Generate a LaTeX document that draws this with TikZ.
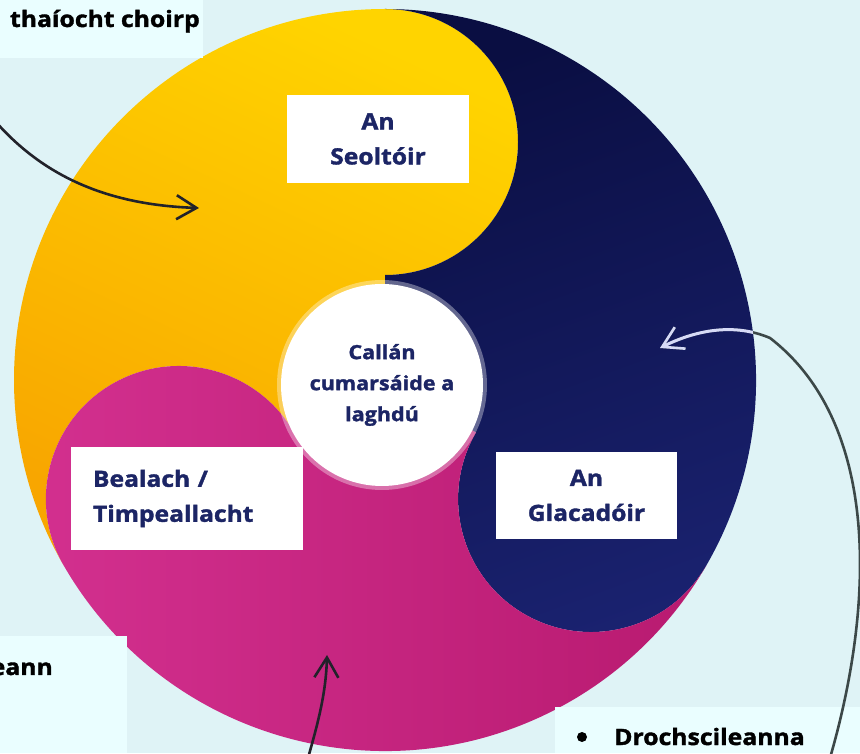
\documentclass[tikz,border=0pt]{standalone}
\usepackage{fontspec}
\setmainfont{Open Sans}[FakeStretch=1.1, BoldFeatures={FakeBold=1.6}]
\usetikzlibrary{arrows.meta,calc}
\definecolor{bg}{HTML}{DFF3F6}
\definecolor{boxc}{HTML}{EAFEFF}
\definecolor{ytop}{HTML}{FFD400}
\definecolor{ymid}{HTML}{FFC800}
\definecolor{ybot}{HTML}{F8A600}
\definecolor{ntop}{HTML}{0A0E42}
\definecolor{nbot}{HTML}{1A2270}
\definecolor{mleft}{HTML}{D3308F}
\definecolor{mright}{HTML}{B81A70}
\definecolor{navytext}{HTML}{1C2565}
\definecolor{darkline}{HTML}{22222A}
\definecolor{grayline}{HTML}{3C4848}
\definecolor{lightline}{HTML}{D6DAF6}
\tikzset{
  lbl/.style={fill=white, inner sep=0pt, align=center, text=navytext,
    font=\fontsize{22.4}{35}\selectfont\bfseries},
  ctext/.style={inner sep=0pt, text=black, font=\fontsize{22.5}{30}\selectfont\bfseries},
  arr/.style={line width=2.6pt, line cap=round,
    -{Straight Barb[length=20pt,width=24pt,line width=2.6pt]}}
}
\begin{document}
\begin{tikzpicture}[x=1pt,y=1pt]
\useasboundingbox (0,0) rectangle (860,753);
\clip (0,0) rectangle (860,753);
\fill[bg] (0,0) rectangle (860,753);
\coordinate (O) at (385,373);
% yellow (top-left)
\shade[top color=ytop, middle color=ymid, bottom color=ybot, shading angle=-25]
  ($(O)+(90:371)$) arc[start angle=90,end angle=210,radius=371]
  arc[start angle=210,end angle=30,radius=133] -- (O) -- ($(O)+(90:105)$)
  arc[start angle=-90,end angle=90,radius=133] -- cycle;
% navy (right)
\shade[top color=ntop, bottom color=nbot, shading angle=20]
  ($(O)+(-30:371)$) arc[start angle=-30,end angle=90,radius=371]
  arc[start angle=90,end angle=-90,radius=133] -- (O) -- ($(O)+(-30:105)$)
  arc[start angle=150,end angle=330,radius=133] -- cycle;
% magenta (bottom-left)
\shade[left color=mleft, right color=mright]
  ($(O)+(210:371)$) arc[start angle=210,end angle=330,radius=371]
  arc[start angle=330,end angle=150,radius=133] -- (O) -- ($(O)+(210:105)$)
  arc[start angle=30,end angle=210,radius=133] -- cycle;
% centre
\fill[white, opacity=0.35] (382,368) circle[radius=105];
\node[circle, fill=white, minimum size=202pt, inner sep=0pt, align=center, text=navytext,
  font=\fontsize{19.6}{31}\selectfont\bfseries] (noise) at (382,368)
  {Callán\\cumarsáide a\\laghdú};
% labels
\node[lbl, minimum width=182pt, minimum height=88pt] (seol) at (378,614) {An\\Seoltóir};
\node[lbl, minimum width=181pt, minimum height=87pt] (glac) at (586.5,257.5) {An\\Glacadóir};
\node[lbl, minimum width=232pt, minimum height=103pt, text width=188pt, align=left, inner xsep=22pt]
  (beal) at (187,254.5) {Bealach /\\Timpeallacht};
% corner boxes
\fill[boxc] (0,695) rectangle (203,753);
\node[ctext, anchor=base east] (tltext) at (200,726) {thaíocht choirp};
\fill[boxc] (0,0) rectangle (127,117);
\node[ctext, anchor=base east] (bltext) at (53,78) {eann};
\fill[boxc] (555,0) rectangle (860,46);
\fill[black] (582,16) circle[radius=5];
\node[ctext, anchor=base west] (drtext) at (614,8) {Drochscileanna};
% arrows
\coordinate (a1s) at (-5,632);
\coordinate (a1e) at (199,545);
\draw[arr, darkline] (a1s) .. controls (45,575) and (110,548) .. (a1e);
\coordinate (a2s) at (308,-5);
\coordinate (a2e) at (327,98);
\draw[arr, darkline] (a2s) .. controls (318,30) and (326,60) .. (a2e);
\coordinate (a3s) at (830,-5);
\coordinate (a3m) at (770,415);
\coordinate (a3e) at (660,405);
\draw[arr, grayline] (a3s) .. controls (875,150) and (880,330) .. (a3m)
  .. controls (730,432) and (690,420) .. (a3e);
\begin{scope}
\clip (O) circle[radius=371];
\draw[arr, lightline, line width=3pt] (a3s) .. controls (875,150) and (880,330) .. (a3m)
  .. controls (730,432) and (690,420) .. (a3e);
\end{scope}
\end{tikzpicture}
\end{document}
